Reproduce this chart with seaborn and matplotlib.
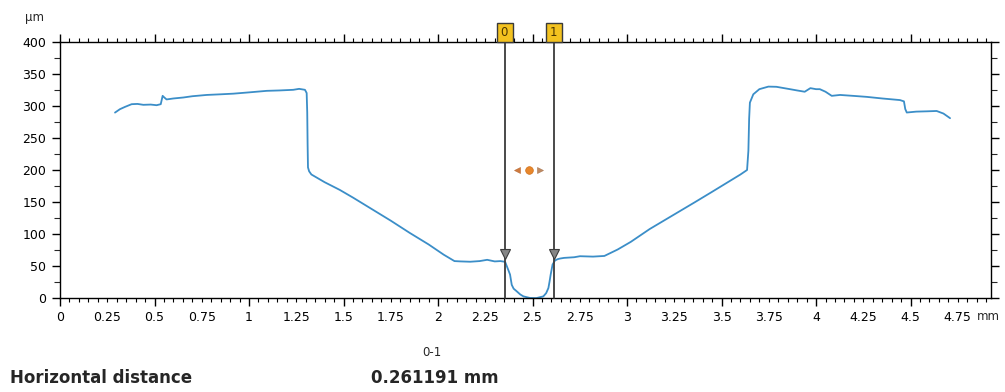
import matplotlib
matplotlib.use("Agg")
import matplotlib.pyplot as plt
import matplotlib.patches as mpatches
from matplotlib.ticker import MultipleLocator, FixedLocator, FuncFormatter
import seaborn as sns
import pandas as pd

# ---- data ----
prof_x = [0.291, 0.317, 0.344, 0.379, 0.41, 0.441, 0.48, 0.511, 0.533, 0.543, 0.552, 0.564,
          0.60, 0.652, 0.70, 0.776, 0.85, 0.917, 1.00, 1.094, 1.16, 1.234, 1.265, 1.296,
          1.305, 1.308, 1.310, 1.312, 1.318, 1.33, 1.40, 1.48, 1.55, 1.65, 1.75, 1.85,
          1.95, 2.03, 2.087, 2.12, 2.17, 2.22, 2.26, 2.30, 2.33, 2.352, 2.356, 2.372,
          2.381, 2.39, 2.40, 2.416, 2.435, 2.452, 2.487, 2.52, 2.557, 2.572, 2.584, 2.59,
          2.596, 2.606, 2.619, 2.633, 2.646, 2.667, 2.72, 2.751, 2.82, 2.88, 2.95, 3.02,
          3.12, 3.2, 3.28, 3.36, 3.45, 3.55, 3.60, 3.635, 3.642, 3.646, 3.65, 3.668,
          3.70, 3.748, 3.79, 3.862, 3.90, 3.94, 3.97, 4.0, 4.02, 4.05, 4.083, 4.127,
          4.2, 4.268, 4.35, 4.444, 4.465, 4.472, 4.48, 4.53, 4.59, 4.638, 4.674, 4.709]
prof_y = [289.5, 294.8, 298.4, 302.6, 303, 301.6, 302, 301, 302.6, 315.6, 313, 310,
          311.5, 313, 315, 317, 318, 319, 321, 323.4, 324, 325, 326.5, 325,
          320, 290, 240, 204, 198, 193, 181, 169, 157, 139, 121, 102,
          84, 68, 58, 57.5, 57, 58, 60, 57.5, 58, 57, 56, 44,
          37, 21, 15, 11, 6, 3, 0.5, 0.3, 3, 8, 16, 26,
          37, 52.6, 59, 61, 62, 63, 64, 65.6, 65, 66, 76, 88,
          108, 122, 136, 150, 166, 184, 193, 200, 230, 280, 305, 318,
          326, 330, 329.7, 326, 324, 322, 327.6, 326, 326, 322, 315.6, 317,
          315.5, 314, 311.5, 309, 307, 295, 289.6, 291, 291.5, 292, 288, 280.8]

cursor_x = [2.353, 2.614]          # mm
cursor_labels = ["0", "1"]
cursor_y = [68.5, 68.5]            # marker height on the profile (µm)
handle_x = 2.4835
handle_y = 200

x_ticks_labeled = [0, 0.25, 0.5, 0.75, 1, 1.25, 1.5, 1.75, 2, 2.25, 2.5, 2.75,
                   3, 3.25, 3.5, 3.75, 4, 4.25, 4.5, 4.75]
y_ticks = [0, 50, 100, 150, 200, 250, 300, 350, 400]

result_name = "Horizontal distance"
result_pair = "0-1"
result_value = "0.261191 mm"

# ---- drawing ----
sns.set_style("white")
plt.rcParams['font.family'] = ['DejaVu Sans']

W, H = 1005, 392
fig = plt.figure(figsize=(W / 100, H / 100), dpi=100)
L, R, T, B = 60, 990.7, 41.7, 298.3
ax = fig.add_axes([L / W, 1 - B / H, (R - L) / W, (B - T) / H])

df = pd.DataFrame({"x": prof_x, "y": prof_y})
sns.lineplot(data=df, x="x", y="y", sort=False, estimator=None, ax=ax,
             color="#3b8ec8", linewidth=1.3, clip_on=False)

ax.set_xlim(0, 4.924)
ax.set_ylim(0, 400)
ax.set_xlabel("")
ax.set_ylabel("")

for s in ax.spines.values():
    s.set_color("black")
    s.set_linewidth(1.0)

# x ticks: long at 0.5, short every 0.05, labels every 0.25
ax.xaxis.set_major_locator(MultipleLocator(0.5))
ax.xaxis.set_minor_locator(MultipleLocator(0.05))

def fmt_major(v, pos):
    return ("%g" % round(v, 2)) if v <= 4.8 else ""

def fmt_minor(v, pos):
    r = round(v, 2)
    for t in x_ticks_labeled:
        if abs(r - t) < 1e-6 and abs((t / 0.5) - round(t / 0.5)) > 1e-6:
            return "%g" % t
    return ""

ax.xaxis.set_major_formatter(FuncFormatter(fmt_major))
ax.xaxis.set_minor_formatter(FuncFormatter(fmt_minor))
ax.tick_params(axis="x", which="major", direction="out", length=6, width=1,
               pad=3.5, labelsize=9, top=True, bottom=True, colors="black")
ax.tick_params(axis="x", which="minor", direction="out", length=3, width=0.8,
               pad=6.5, labelsize=9, top=True, bottom=True, colors="black")
ax.tick_params(axis="x", which="both", labeltop=False)

ax.yaxis.set_major_locator(FixedLocator(y_ticks))
ax.yaxis.set_minor_locator(MultipleLocator(25))
ax.tick_params(axis="y", which="major", direction="out", length=6, width=1,
               pad=4, labelsize=9, left=True, right=True, colors="black")
ax.tick_params(axis="y", which="minor", direction="out", length=4, width=0.8,
               left=True, right=True)
ax.tick_params(axis="y", which="both", labelright=False)

# unit labels
fig.text(25 / W, 1 - 18 / H, "µm", fontsize=8.5, ha="left", va="center")
fig.text(977 / W, 1 - 317 / H, "mm", fontsize=8.5, ha="left", va="center")

# cursors
box_w = 0.085
for cx, lab, cy in zip(cursor_x, cursor_labels, cursor_y):
    ax.plot([cx, cx], [0, 400], color="#3c3c3c", linewidth=1.3, zorder=4, clip_on=False)
    rect = mpatches.Rectangle((cx - box_w / 2, 1.0), box_w, 0.072,
                              transform=ax.get_xaxis_transform(), clip_on=False,
                              facecolor="#f3c21f", edgecolor="#3a3a3a", linewidth=1.0, zorder=6)
    ax.add_patch(rect)
    ax.text(cx - 0.005, 1.036, lab, transform=ax.get_xaxis_transform(),
            ha="center", va="center", fontsize=8.5, color="#4a3500", zorder=7, clip_on=False)
    ax.plot([cx], [cy], marker="v", markersize=7.5, markerfacecolor="#858585",
            markeredgecolor="#3c3c3c", markeredgewidth=0.8, zorder=8, linestyle="none")

# centre handle
ax.plot([handle_x], [handle_y], marker="o", markersize=5.5, markerfacecolor="#e8872b",
        markeredgecolor="#d0701a", markeredgewidth=0.5, linestyle="none", zorder=8)
ax.plot([handle_x - 0.065], [handle_y], marker="<", markersize=5, markerfacecolor="#cf7a3e",
        markeredgecolor="#b86a35", markeredgewidth=0.4, linestyle="none", zorder=8)
ax.plot([handle_x + 0.058], [handle_y], marker=">", markersize=5, markerfacecolor="#c08a62",
        markeredgecolor="#a87550", markeredgewidth=0.4, linestyle="none", zorder=8)

# result texts
fig.text(10 / W, 1 - 378 / H, result_name, fontsize=12, fontweight="bold",
         ha="left", va="center")
fig.text(432 / W, 1 - 352 / H, result_pair, fontsize=8.5, ha="center", va="center")
fig.text(371 / W, 1 - 378 / H, result_value, fontsize=12, fontweight="bold",
         ha="left", va="center")

fig.savefig("out.png", dpi=100)
